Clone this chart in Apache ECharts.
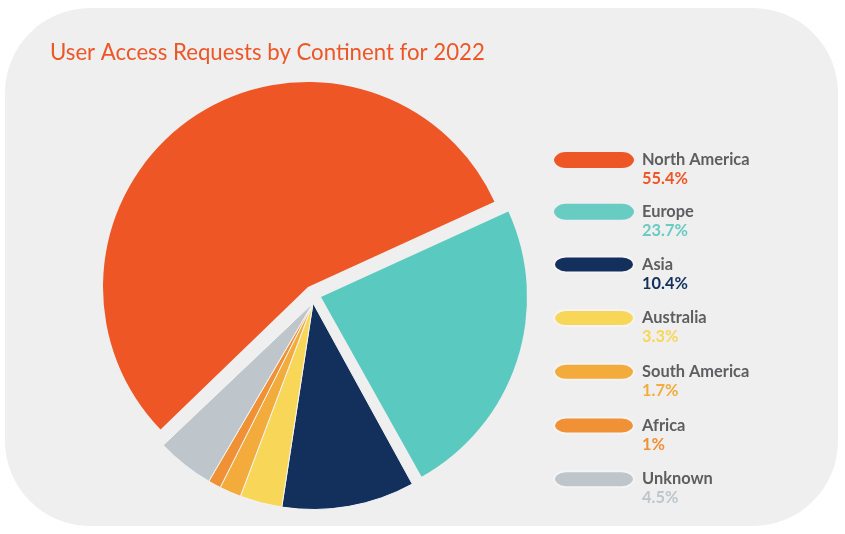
<!DOCTYPE html>
<html>
<head>
<meta charset="utf-8">
<style>
    html, body { margin: 0; padding: 0; background: #fff; }
    #chart { width: 845px; height: 534px; }
</style>
<script src="https://cdn.jsdelivr.net/npm/echarts@6/dist/echarts.min.js"></script>
</head>
<body>
<div id="chart"></div>
<script>
var titleText = "User Access Requests by Continent for 2022";
var continents = ["North America", "Europe", "Asia", "Australia", "South America", "Africa", "Unknown"];
var shares = [55.4, 23.7, 10.4, 3.3, 1.7, 1, 4.5];
var sliceColors = ["#ee5626", "#5ac9bf", "#12305b", "#f8d658", "#f3ac3c", "#f09135", "#bec6cc"];
var legendColors = ["#ee5626", "#69ccc2", "#12305b", "#f8d658", "#f3ac3c", "#f09135", "#bec6cc"];

//饼图分三块，每块圆心不同，其余扇区透明占位
var pieGroups = [
    { center: [308, 287], radius: 205, startAngle: 224, members: [0] },
    { center: [321, 297], radius: 206, startAngle: 224, members: [1] },
    { center: [313, 303], radius: 206.5, startAngle: 223.5, members: [2, 3, 4, 5, 6] }
];

function buildSeries(group) {
    return {
        type: "pie",
        radius: [0, group.radius],
        center: group.center,
        startAngle: group.startAngle,
        clockwise: true,
        animation: false,
        silent: true,
        label: { show: false },
        labelLine: { show: false },
        data: continents.map(function (name, index) {
            var visible = group.members.indexOf(index) !== -1;
            return {
                name: visible ? name : "",
                value: shares[index],
                itemStyle: visible
                    ? { color: sliceColors[index], borderColor: "#f4f4f4", borderWidth: group.members.length > 1 ? 1 : 0 }
                    : { color: "transparent", borderWidth: 0 }
            };
        })
    };
}

//图例文字：名称一行，百分比一行
var legendRich = { name: { color: "#5e5e60", fontSize: 16.4, fontWeight: 700, lineHeight: 19, fontFamily: "Lato" } };
legendColors.forEach(function (color, index) {
    legendRich["v" + index] = { color: color, fontSize: 16.4, fontWeight: 700, lineHeight: 19, fontFamily: "Lato" };
});

var option = {
    animation: false,
    title: {
        text: titleText,
        left: 50,
        top: 42,
        padding: 0,
        textStyle: { color: "#ee5626", fontSize: 22.2, fontWeight: 400, fontFamily: "Lato" }
    },
    legend: {
        orient: "vertical",
        left: 553,
        top: 152,
        padding: 0,
        itemWidth: 83,
        itemHeight: 35,
        itemGap: 16.7,
        selectedMode: false,
        //胶囊只占图标左上部分，末尾的空点把图标范围撑大
        icon: "path://M12 0L68 0C76 0 80 5 80 8C80 11 76 16 68 16L12 16C4 16 0 11 0 8C0 5 4 0 12 0ZM83 35L83 35Z",
        data: continents.map(function (name, index) {
            return { name: name, itemStyle: { color: legendColors[index] } };
        }),
        textStyle: { rich: legendRich },
        formatter: function (name) {
            var index = continents.indexOf(name);
            return "{name|" + name + "}\n{v" + index + "|" + shares[index] + "%}";
        }
    },
    graphic: [{
        type: "rect",
        z: -1,
        silent: true,
        shape: { x: 5, y: 8, width: 833, height: 518, r: 85 },
        style: { fill: "#efefef" }
    }],
    series: pieGroups.map(buildSeries)
};

var myChart = echarts.init(document.getElementById("chart"), null, { renderer: "canvas" });
myChart.setOption(option);
</script>
</body>
</html>
